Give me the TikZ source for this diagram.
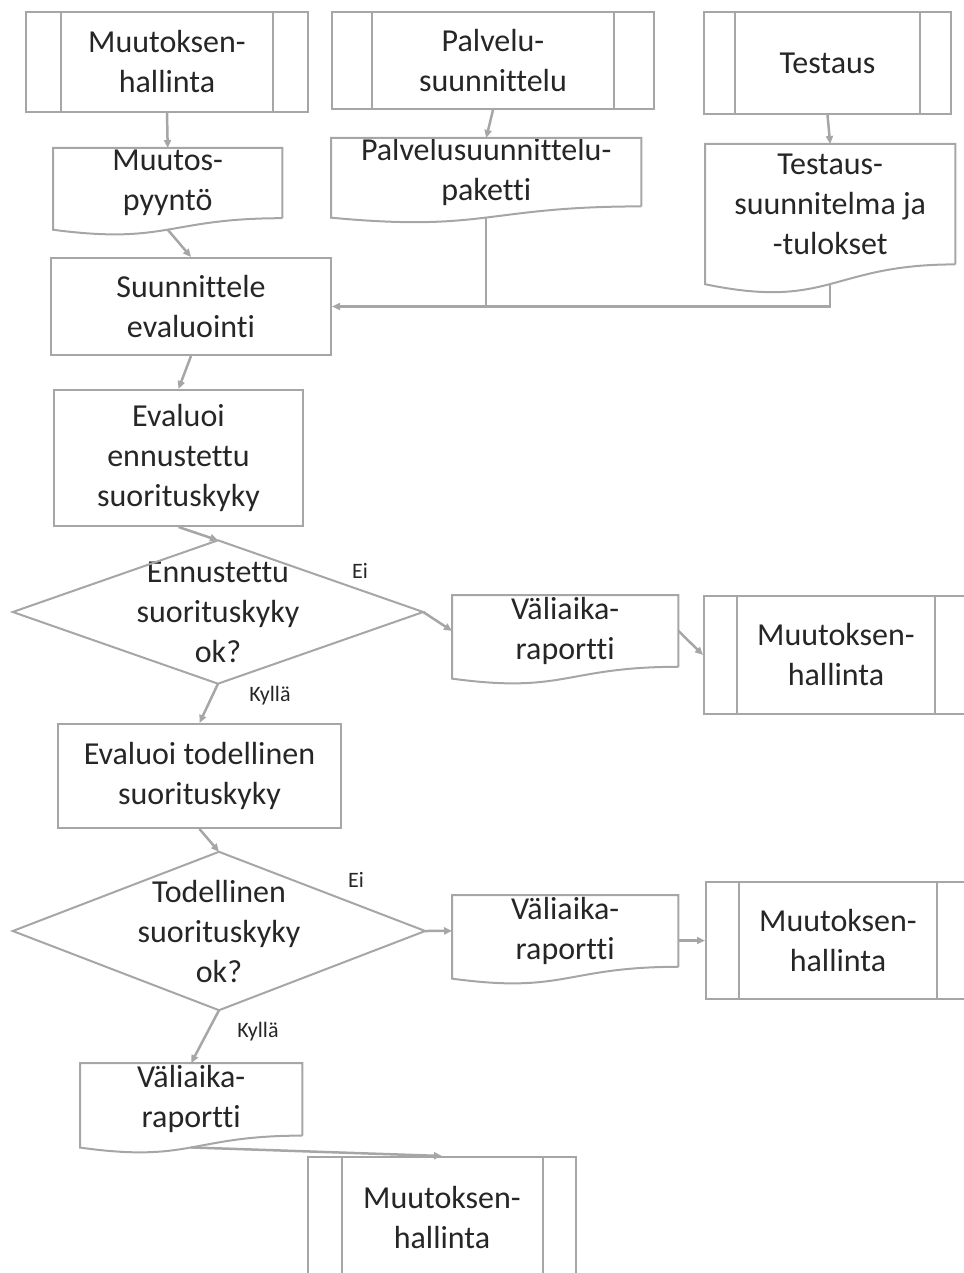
\documentclass[tikz,border=0pt]{standalone}
\usepackage{fontspec}
\setmainfont{Carlito}[Ligatures=NoCommon]
\usetikzlibrary{arrows.meta,calc}
\definecolor{linegrey}{RGB}{166,166,166}
\definecolor{inkgrey}{RGB}{38,38,38}

\begin{document}
\begin{tikzpicture}[x=1pt,y=-1pt,
  every node/.style={inner sep=0pt, text=inkgrey, align=center,
    font=\fontsize{32}{40}\selectfont},
  outline/.style={draw=linegrey, line width=2pt},
  taskbox/.style={outline, rectangle, anchor=north west},
  procbox/.style={taskbox, path picture={
    \draw[linegrey, line width=2pt]
      ($(path picture bounding box.north west)!0.125!(path picture bounding box.north east)$) --
      ($(path picture bounding box.south west)!0.125!(path picture bounding box.south east)$)
      ($(path picture bounding box.north west)!0.875!(path picture bounding box.north east)$) --
      ($(path picture bounding box.south west)!0.875!(path picture bounding box.south east)$);}},
  docbox/.style={rectangle, anchor=north west},
  decisionbox/.style={rectangle},
  flow/.style={draw=linegrey, line width=2.5pt, -{Triangle[length=8pt,width=7pt]}},
  plainflow/.style={draw=linegrey, line width=2.5pt},
  branchlabel/.style={font=\fontsize{22}{26}\selectfont, anchor=base}
]
\useasboundingbox (0,0) rectangle (963,1273);

% sub-processes (predefined process boxes)
\node[procbox, minimum width=282pt, minimum height=100pt] (mh1) at (25,11) {Muutoksen-\\hallinta};
\node[procbox, minimum width=322pt, minimum height=97pt]  (ps)  at (331,11) {Palvelu-\\suunnittelu};
\node[procbox, minimum width=247pt, minimum height=102pt] (te)  at (703,11) {Testaus};
\node[procbox, minimum width=264pt, minimum height=118pt] (mh2) at (703,595) {Muutoksen-\\hallinta};
\node[procbox, minimum width=264pt, minimum height=117pt] (mh3) at (705,881) {Muutoksen-\\hallinta};
\node[procbox, minimum width=268pt, minimum height=120pt] (mh4) at (307,1156) {Muutoksen-\\hallinta};

% documents (node = text area, wavy edge drawn below)
\node[docbox, minimum width=229pt, minimum height=69.8pt] (pyynto)   at (53,148)  {Muutos-\\pyyntö};
\node[docbox, minimum width=310pt, minimum height=68pt]   (paketti)  at (331,138) {Palvelusuunnittelu-\\paketti};
\node[docbox, minimum width=250pt, minimum height=120pt]  (testsuun) at (705,144) {Testaus-\\suunnitelma ja\\-tulokset};
\node[docbox, minimum width=226pt, minimum height=71.4pt] (rap1)     at (452,595) {Väliaika-\\raportti};
\node[docbox, minimum width=226pt, minimum height=71.4pt] (rap2)     at (452,895) {Väliaika-\\raportti};
\node[docbox, minimum width=222pt, minimum height=72.2pt] (rap3)     at (80,1063) {Väliaika-\\raportti};

\foreach \d in {pyynto,paketti,testsuun,rap1,rap2,rap3}{
  \draw[outline] (\d.south east) -- (\d.north east) -- (\d.north west)
    -- ($(\d.north west)!1.1646!(\d.south west)$)
    .. controls ($(\d.north)!1.380!(\d.south)$) and (\d.south) .. (\d.south east);
  \coordinate (\d-b) at ($(\d.north)!1.163!(\d.south)$);
}

% tasks
\node[taskbox, minimum width=280pt, minimum height=97pt]  (suunn) at (50,257) {Suunnittele\\evaluointi};
\node[taskbox, minimum width=249pt, minimum height=136pt] (ev1)   at (53,389) {Evaluoi\\ennustettu\\suorituskyky};
\node[taskbox, minimum width=283pt, minimum height=104pt] (ev2)   at (57,723) {Evaluoi todellinen\\suorituskyky};

% decisions
\node[decisionbox, minimum width=410pt, minimum height=143pt] (dia1) at (218,612) {Ennustettu\\suorituskyky\\ok?};
\node[decisionbox, minimum width=412pt, minimum height=158pt] (dia2) at (219,931) {Todellinen\\suorituskyky\\ok?};
\foreach \d in {dia1,dia2}
  \draw[outline] (\d.north) -- (\d.east) -- (\d.south) -- (\d.west) -- cycle;

% connectors
\draw[flow] (mh1.south) -- (pyynto.north);
\draw[flow] (ps.south) -- (paketti.north);
\draw[flow] (te.south) -- (testsuun.north);
\draw[flow] (pyynto-b) -- (suunn.north);
\draw[plainflow] (paketti-b) -- (paketti-b |- suunn.east);
\draw[flow] (testsuun-b) |- (suunn.east);
\draw[flow] (suunn.south) -- (ev1.north);
\draw[flow] (ev1.south) -- (dia1.north);
\draw[flow] (dia1.east) -- (rap1.west);
\draw[flow] (rap1.east) -- (mh2.west);
\draw[flow] (dia1.south) -- (ev2.north);
\draw[flow] (ev2.south) -- (dia2.north);
\draw[flow] (dia2.east) -- (rap2.west);
\draw[flow] (rap2.east |- mh3.west) -- (mh3.west);
\draw[flow] (dia2.south) -- (rap3.north);
\draw[flow] (rap3-b) -- (mh4.north);

% branch labels
\node[branchlabel] (ei1) at (360,578) {Ei};
\node[branchlabel] (ky1) at (270,701) {Kyllä};
\node[branchlabel] (ei2) at (356,887) {Ei};
\node[branchlabel] (ky2) at (258,1037) {Kyllä};
\end{tikzpicture}
\end{document}
